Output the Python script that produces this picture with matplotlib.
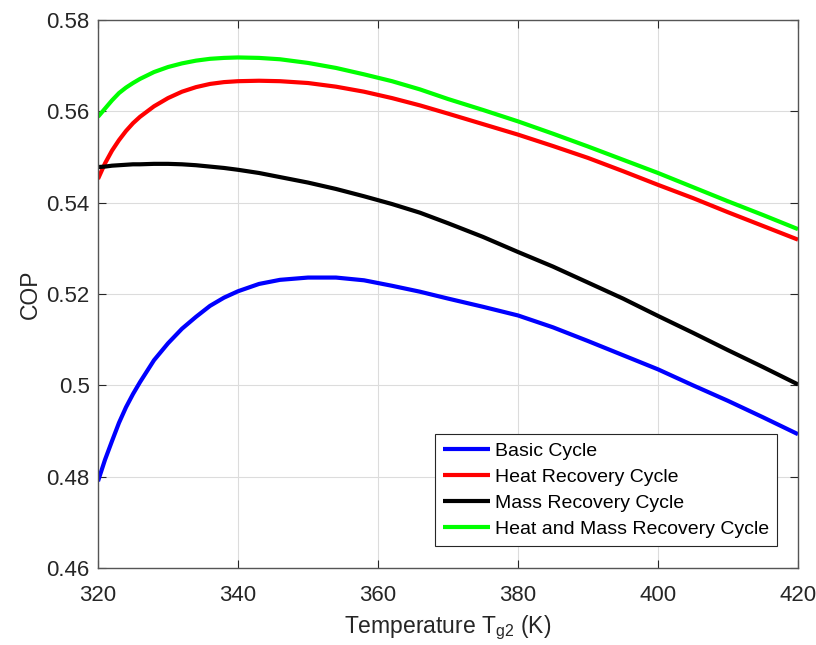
import matplotlib
matplotlib.use("Agg")
import matplotlib.pyplot as plt

plt.rcParams['font.family'] = ['Liberation Sans', 'DejaVu Sans']
plt.rcParams['mathtext.fontset'] = 'custom'
plt.rcParams['mathtext.rm'] = 'Liberation Sans'
plt.rcParams['mathtext.it'] = 'Liberation Sans'

T = [320, 321, 322, 323, 324, 325, 326,
     328, 330, 332, 334, 336, 338, 340,
     343, 346,
     350, 354, 358, 362, 366, 370,
     375, 380, 385, 390, 395, 400, 405, 410, 415, 420]

basic = [0.4790, 0.4837, 0.4878, 0.4918, 0.4952, 0.4981, 0.5007,
         0.5055, 0.5092, 0.5124, 0.5150, 0.5174, 0.5192, 0.5206,
         0.5222, 0.5231,
         0.5236, 0.5236, 0.5230, 0.5218, 0.5205, 0.5190,
         0.5172, 0.5153, 0.5127, 0.5097, 0.5066, 0.5035, 0.5000, 0.4966, 0.4930, 0.4893]

heat = [0.5452, 0.5486, 0.5514, 0.5537, 0.5557, 0.5574, 0.5588,
        0.5611, 0.5629, 0.5643, 0.5653, 0.5660, 0.5664, 0.5666,
        0.5667, 0.5666,
        0.5662, 0.5654, 0.5643, 0.5629, 0.5613, 0.5595,
        0.5572, 0.5549, 0.5524, 0.5498, 0.5469, 0.5439, 0.5410, 0.5379, 0.5349, 0.5319]

mass = [0.5478, 0.5479, 0.5481, 0.5482, 0.5483, 0.5484, 0.5484,
        0.5485, 0.5485, 0.5484, 0.5482, 0.5479, 0.5476, 0.5472,
        0.5465, 0.5456,
        0.5444, 0.5430, 0.5414, 0.5397, 0.5378, 0.5355,
        0.5325, 0.5292, 0.5260, 0.5225, 0.5190, 0.5152, 0.5115, 0.5077, 0.5040, 0.5002]

heat_mass = [0.5588, 0.5606, 0.5624, 0.5640, 0.5652, 0.5662, 0.5671,
             0.5686, 0.5697, 0.5705, 0.5711, 0.5715, 0.5717, 0.5718,
             0.5717, 0.5714,
             0.5706, 0.5695, 0.5681, 0.5666, 0.5648, 0.5627,
             0.5603, 0.5578, 0.5551, 0.5523, 0.5494, 0.5465, 0.5434, 0.5403, 0.5373, 0.5342]

labels = ['Basic Cycle', 'Heat Recovery Cycle', 'Mass Recovery Cycle',
          'Heat and Mass Recovery Cycle']
colors = ['#0000ff', '#ff0000', '#000000', '#00ff00']

xticks = [320, 340, 360, 380, 400, 420]
yticks = [0.46, 0.48, 0.50, 0.52, 0.54, 0.56, 0.58]
yticklabels = ['0.46', '0.48', '0.5', '0.52', '0.54', '0.56', '0.58']

fig = plt.figure(figsize=(8.16, 6.45), dpi=100)
ax = fig.add_axes([98/816, 1 - 568/645, 700/816, 548/645])

for s, lab, c in zip([basic, heat, mass, heat_mass], labels, colors):
    ax.plot(T, s, color=c, lw=3, label=lab, solid_capstyle='butt',
            solid_joinstyle='round')

ax.set_xlim(320, 420)
ax.set_ylim(0.46, 0.58)
ax.set_xticks(xticks)
ax.set_yticks(yticks)
ax.set_yticklabels(yticklabels)
ax.grid(True, color='#dcdcdc', lw=0.8)
ax.set_axisbelow(True)
ax.tick_params(direction='in', top=True, right=True, labelsize=16,
               colors='#262626', length=6, width=0.8)
ax.tick_params(axis='x', pad=12)
ax.tick_params(axis='y', pad=6)
for sp in ax.spines.values():
    sp.set_color('#555555')
    sp.set_linewidth(1.0)

ax.set_xlabel('Temperature T$_{\\mathrm{g2}}$ (K)', fontsize=16.5, color='#262626', labelpad=6)
ax.set_ylabel('COP', fontsize=16.5, color='#262626', labelpad=3)

leg = ax.legend(loc='lower right', bbox_to_anchor=(0.970, 0.040), fontsize=14,
                frameon=True, fancybox=False, edgecolor='#262626', framealpha=1,
                handlelength=2.4, handletextpad=0.26, labelspacing=0.44,
                borderpad=0.41, borderaxespad=0)
leg.get_frame().set_linewidth(0.8)

fig.savefig('out.png', dpi=100)
